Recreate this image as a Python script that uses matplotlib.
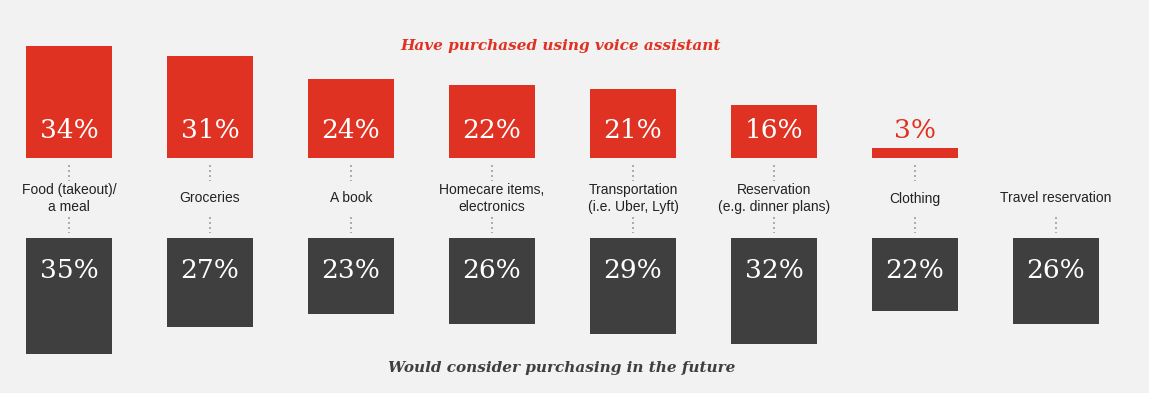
import matplotlib.pyplot as plt

# Data
categories = ["Food (takeout)/\na meal", "Groceries", "A book", "Homecare items,\nelectronics",
              "Transportation\n(i.e. Uber, Lyft)", "Reservation\n(e.g. dinner plans)",
              "Clothing", "Travel reservation"]
purchased = [34, 31, 24, 22, 21, 16, 3, None]
would_consider = [35, 27, 23, 26, 29, 32, 22, 26]

RED = "#e03222"
GREY = "#3f3f3f"
BG = "#f2f2f2"

W, H = 1149, 393
fig = plt.figure(figsize=(W / 100, H / 100), dpi=100, facecolor=BG)

# px per percent and x layout (in pixels), converted to axes positions
px_per_pct = 3.3
x0, dx = 69, 141.0
xlim = (-x0 / dx, (W - x0) / dx)

# top axes: red bars grow up from baseline at y=158px
base_top = 158
top_h = 140
ax_top = fig.add_axes([0, (H - base_top) / H, 1, top_h / H])
ax_top.set_xlim(*xlim)
ax_top.set_ylim(0, top_h / px_per_pct)

# bottom axes: grey bars grow down from y=238px
base_bot = 238
bot_h = H - base_bot
ax_bot = fig.add_axes([0, 0, 1, bot_h / H])
ax_bot.set_xlim(*xlim)
ax_bot.set_ylim(bot_h / px_per_pct, 0)

for ax in (ax_top, ax_bot):
    ax.set_facecolor("none")
    ax.axis("off")

xs = list(range(len(categories)))
bw = 86 / dx

red_x = [x for x, v in zip(xs, purchased) if v is not None]
red_v = [v for v in purchased if v is not None]
ax_top.bar(red_x, red_v, width=bw, color=RED)
ax_bot.bar(xs, would_consider, width=bw, color=GREY)

num_font = dict(family="DejaVu Serif", fontsize=19)
for x, v in zip(red_x, red_v):
    color = "white" if v > 10 else RED
    ax_top.text(x, 8.3, f"{v}%", ha="center", va="center", color=color, **num_font)
for x, v in zip(xs, would_consider):
    ax_bot.text(x, 9.7, f"{v}%", ha="center", va="center", color="white", **num_font)

# category labels and dotted connectors in the middle band
def py(pix):
    return (base_top - pix) / px_per_pct

dots = dict(ls=(0, (1.2, 1.8)), color="#a0a0a0", lw=1.2, clip_on=False)
for x, lab in zip(xs, categories):
    ax_top.text(x, py(198.5), lab, ha="center", va="center", fontsize=10,
                family="Liberation Sans", color="#222222", linespacing=1.3, clip_on=False)
    if purchased[x] is not None:
        ax_top.plot([x, x], [py(165), py(181)], **dots)
    ax_top.plot([x, x], [py(217), py(233)], **dots)

fig.text(561 / W, 1 - 46 / H, "Have purchased using voice assistant", ha="center", va="center",
         color=RED, fontsize=11, family="DejaVu Serif", fontweight="bold", style="italic")
fig.text(562 / W, 1 - 368 / H, "Would consider purchasing in the future", ha="center", va="center",
         color=GREY, fontsize=11, family="DejaVu Serif", fontweight="bold", style="italic")

fig.savefig("out.png", dpi=100, facecolor=BG)
